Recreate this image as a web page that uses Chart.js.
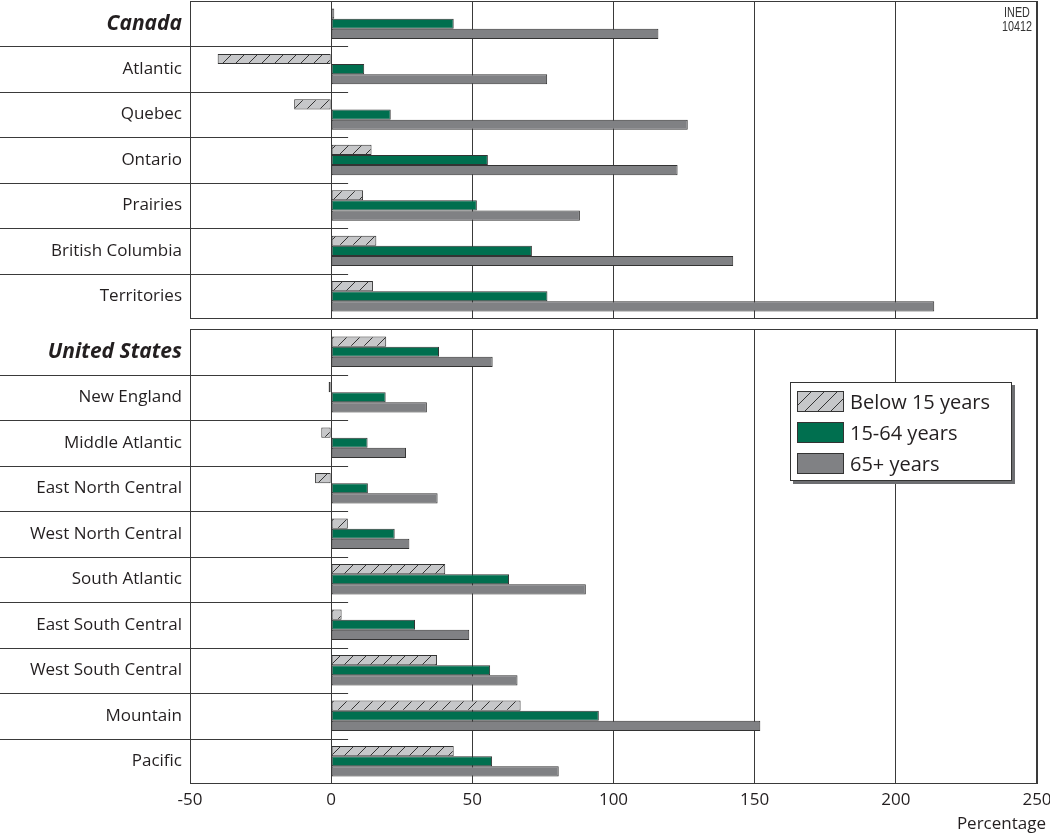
<!DOCTYPE html>
<html><head><meta charset="utf-8">
<script src="https://cdn.jsdelivr.net/npm/chart.js@4.4.1/dist/chart.umd.min.js"></script>
<style>
html,body{margin:0;padding:0;background:#fff;width:1050px;height:834px;overflow:hidden;}
#wrap{position:relative;width:1050px;height:834px;font-family:'Open Sans',sans-serif;color:#231f20;}
canvas{position:absolute;left:0;}
#c1{top:0;}
#c2{top:320px;}
#legend{position:absolute;left:790px;top:382px;width:220px;height:97px;border:1px solid #333;background:#fff;box-shadow:3px 3px 0 #6d6e71;}
.item{position:absolute;left:6px;height:21px;display:flex;align-items:center;white-space:nowrap;}
.sw{width:45px;height:19px;border:1px solid #333;margin-right:6px;box-sizing:content-box;}
.lab{font-size:20px;line-height:21px;color:#231f20;}
#ined{position:absolute;left:992px;top:5px;width:50px;text-align:center;font-family:'Liberation Sans',sans-serif;font-size:15px;line-height:14px;color:#333;transform:scaleX(0.72);transform-origin:50% 0;}
#xtitle{position:absolute;right:4px;top:813px;font-size:17px;line-height:20px;color:#231f20;}
</style>
</head><body>
<div id="wrap">
<canvas id="c1" width="1050" height="320"></canvas>
<canvas id="c2" width="1050" height="514"></canvas>
<div id="legend"></div>
<div id="ined">INED<br>10412</div>
<div id="xtitle">Percentage</div>
</div>
<script>
// ---- data ----
const seriesNames = ['Below 15 years', '15-64 years', '65+ years'];
const canadaRegions = ['Canada', 'Atlantic', 'Quebec', 'Ontario', 'Prairies', 'British Columbia', 'Territories'];
const canadaBelow15 = [1.1, -40.2, -13.1, 14.3, 11.3, 16.0, 14.8];
const canada15to64 = [43.4, 11.7, 21.1, 55.5, 51.6, 71.1, 76.6];
const canada65plus = [115.9, 76.5, 126.3, 122.7, 88.1, 142.4, 213.6];

const usRegions = ['United States', 'New England', 'Middle Atlantic', 'East North Central', 'West North Central', 'South Atlantic', 'East South Central', 'West South Central', 'Mountain', 'Pacific'];
const usBelow15 = [19.5, -0.9, -3.5, -5.7, 5.9, 40.4, 3.7, 37.5, 67.1, 43.4];
const us15to64 = [38.2, 19.3, 12.9, 13.0, 22.5, 63.0, 29.7, 56.3, 94.8, 57.0];
const us65plus = [57.2, 33.9, 26.5, 37.7, 27.7, 90.2, 48.9, 66.0, 152.0, 80.6];

const xTickValues = [-50, 0, 50, 100, 150, 200, 250];

// ---- styles ----
const FONT = "'Open Sans', sans-serif";
const TEXT = '#231f20';
const LINE = '#3a3a3a';

function makeHatch() {
  const c = document.createElement('canvas');
  c.width = 13; c.height = 13;
  const g = c.getContext('2d');
  g.fillStyle = '#c6c7c9';
  g.fillRect(0, 0, 13, 13);
  g.strokeStyle = '#333';
  g.lineWidth = 1;
  g.beginPath();
  g.moveTo(-1, 14); g.lineTo(14, -1);
  g.moveTo(-14, 14); g.lineTo(1, -1);
  g.moveTo(12, 14); g.lineTo(27, -1);
  g.stroke();
  return c;
}
const hatchCanvas = makeHatch();
const hatch = hatchCanvas.getContext('2d').createPattern(hatchCanvas, 'repeat');
const seriesFills = [hatch, '#006f4f', '#808184'];

const frame = {
  id: 'frame',
  afterDraw(chart) {
    const {ctx, chartArea: a, scales: {x, y}} = chart;
    ctx.save();
    ctx.strokeStyle = LINE;
    ctx.lineWidth = 1;
    ctx.strokeRect(Math.round(a.left) + 0.5, Math.round(a.top) + 0.5, Math.round(a.right - a.left) - 1, Math.round(a.bottom - a.top) - 1);
    const xEnd = x.getPixelForValue(6);
    ctx.beginPath();
    for (let i = 1; i < y.ticks.length; i++) {
      const py = Math.round((y.getPixelForTick(i - 1) + y.getPixelForTick(i)) / 2) + 0.5;
      ctx.moveTo(0, py); ctx.lineTo(xEnd, py);
    }
    ctx.stroke();
    ctx.restore();
  }
};

function build(id, labels, s1, s2, s3, showTicks, padTop, padBottom) {
  const data = {
    labels,
    datasets: [s1, s2, s3].map((d, i) => ({
      label: seriesNames[i],
      data: d,
      backgroundColor: seriesFills[i],
      borderColor: '#333',
      borderWidth: 1,
      borderSkipped: false,
      categoryPercentage: 0.67,
      barPercentage: 1.0
    }))
  };
  return new Chart(document.getElementById(id), {
    type: 'bar',
    data,
    options: {
      indexAxis: 'y',
      responsive: false,
      animation: false,
      devicePixelRatio: 1,
      layout: {padding: {top: padTop, right: 13, bottom: padBottom, left: 0}},
      plugins: {legend: {display: false}, tooltip: {enabled: false}},
      scales: {
        x: {
          type: 'linear',
          min: xTickValues[0],
          max: xTickValues[xTickValues.length - 1],
          ticks: {
            display: showTicks,
            stepSize: 50,
            color: TEXT,
            font: {family: FONT, size: 17},
            padding: 6,
            maxRotation: 0
          },
          grid: {color: LINE, lineWidth: 1, drawTicks: false},
          border: {display: false},
          afterFit: (s) => { s.height = showTicks ? 50 : 0; s.paddingLeft = 0; s.paddingRight = 0; }
        },
        y: {
          type: 'category',
          grid: {display: false, drawTicks: false},
          border: {display: false},
          ticks: {
            color: TEXT,
            padding: 8,
            font: (ctx) => ctx.index === 0
              ? {family: FONT, size: 21, weight: 'bold', style: 'italic'}
              : {family: FONT, size: 17}
          },
          afterFit: (s) => { s.width = 190; s.paddingTop = 0; s.paddingBottom = 0; }
        }
      }
    },
    plugins: [frame]
  });
}

build('c1', canadaRegions, canadaBelow15, canada15to64, canada65plus, false, 1, 1);
build('c2', usRegions, usBelow15, us15to64, us65plus, true, 9, 0);

// legend built from series
const leg = document.getElementById('legend');
const hatchURL = hatchCanvas.toDataURL();
seriesNames.forEach((name, i) => {
  const item = document.createElement('div');
  item.className = 'item';
  item.style.top = (8 + i * 31) + 'px';
  const sw = document.createElement('div');
  sw.className = 'sw';
  if (i === 0) sw.style.backgroundImage = 'url(' + hatchURL + ')';
  else sw.style.background = seriesFills[i];
  const lab = document.createElement('span');
  lab.className = 'lab';
  lab.textContent = name;
  item.appendChild(sw); item.appendChild(lab);
  leg.appendChild(item);
});
</script>
</body></html>
